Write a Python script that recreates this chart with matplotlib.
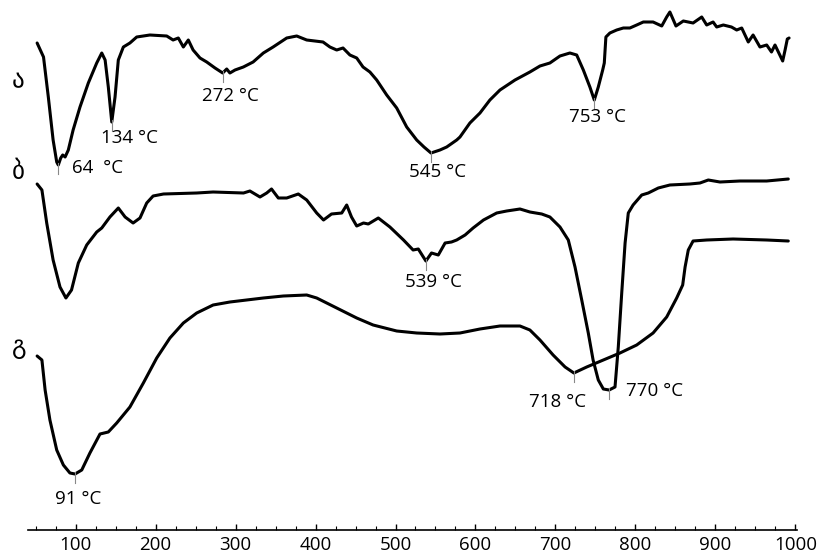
import matplotlib
matplotlib.use("Agg")
import matplotlib.pyplot as plt
from matplotlib.ticker import FixedLocator

# ---------------- data (temperature, °C ; DTA signal, arbitrary units) -------------
a_temp = [52, 60, 66, 72, 76.5, 78.5, 81.5, 84, 87, 91, 97, 105.6, 116, 126.5, 132.8,
          137, 141, 145.3, 149.4, 153.5, 159.8, 168, 176.5, 193, 214, 222, 228.5, 234.8,
          241, 247, 255.6, 264, 274.4, 284, 289, 293, 299.4, 309.8, 322, 334.8, 347, 364,
          376.5, 389, 409.4, 418, 426.5, 434.4, 443, 451.5, 459.4, 468, 476.5, 489, 501.5,
          514, 526.5, 535.6, 544.4, 555.6, 564, 576.5, 580.6, 593, 605.6, 618, 630.6, 649.4,
          668, 680.6, 693, 705.6, 718, 726.5, 734.8, 743, 748.5, 753.5, 759, 761, 763, 768,
          776.5, 784.8, 793, 801.5, 809.8, 822, 832.8, 839, 843, 850.6, 859.8, 872, 882.8,
          889, 897, 901.5, 909.8, 920, 926.5, 932.8, 941, 947, 955.6, 964, 970, 974.4, 984,
          987, 989.8, 992]
a_signal = [487, 473, 433, 390, 368, 365, 372, 375, 373, 380, 400, 423, 447, 467, 477,
            470, 443, 408, 433, 470, 483, 487, 493, 495, 494, 490, 492, 483, 490, 480,
            472, 468, 462, 457, 461, 457, 460, 463, 468, 477, 483, 492, 494, 490, 488,
            483, 480, 482, 475, 472, 463, 458, 450, 435, 422, 403, 390, 383, 377, 380,
            383, 390, 393, 407, 417, 430, 440, 450, 458, 464, 467, 474, 477, 475, 460,
            443, 430, 443, 460, 467, 493, 497, 500, 502, 502, 505, 508, 508, 504, 513,
            518, 504, 509, 507, 513, 505, 508, 503, 505, 503, 500, 502, 488, 495, 483,
            485, 478, 485, 469, 480, 491, 492]

b_temp = [52, 58, 64, 72, 80.6, 88, 95, 103.5, 114, 126.5, 132.8, 143, 153.5, 162, 172,
          180.6, 189, 197, 210, 251.5, 272, 310, 318, 330.6, 339, 345, 353.5, 364, 378.5,
          389, 401.5, 410, 420, 432.8, 439, 445, 451.5, 460, 466, 478.5, 493, 510, 522, 528.5,
          534.8, 538, 545, 553.5, 562, 570, 576.5, 587, 597, 610, 626.5, 639, 655.6, 668,
          682.8, 693, 705.6, 716, 724.4, 732.8, 741, 747, 753.5, 759.8, 767, 774.4, 778.5,
          782.8, 787, 791, 797, 807.8, 816, 828.5, 843, 868, 880.6, 891, 905.6, 930.6, 964, 991]
b_signal = [346, 340, 307, 270, 243, 232, 240, 267, 285, 298, 302, 313, 322, 313, 307,
            312, 327, 334, 336, 337, 338, 337, 339, 333, 337, 341, 332, 332, 336, 330,
            317, 310, 316, 317, 325, 313, 304, 307, 306, 312, 303, 290, 280, 281, 273,
            269, 277, 275, 287, 288, 290, 295, 302, 310, 317, 319, 321, 318, 316, 313,
            303, 290, 263, 230, 197, 170, 150, 141, 140, 143, 183, 237, 287, 317, 325,
            335, 337, 342, 345, 346, 347, 350, 348, 349, 349, 351]

c_temp = [52, 58, 62, 68, 76.5, 84.8, 93, 99.4, 107.8, 118, 130.6, 141, 151.5, 168, 184.8,
          201.5, 218, 234.8, 251.5, 272, 293, 334.8, 359.8, 389, 401.5, 426.5, 451.5, 472,
          501.5, 526.5, 555.6, 580.6, 605.6, 630.6, 655.6, 668, 680.6, 697, 712, 723, 739,
          759.8, 780.6, 801.5, 822, 839, 851.5, 859, 862, 866, 872, 889, 922, 964, 991]
c_signal = [174, 170, 140, 110, 80, 65, 57, 56, 60, 77, 96, 98, 107, 123, 147, 172, 192,
            207, 217, 225, 228, 232, 234, 235, 232, 222, 212, 205, 199, 197, 196, 197,
            201, 204, 204, 200, 190, 175, 163, 157, 163, 170, 177, 185, 197, 213, 232,
            245, 263, 280, 289, 290, 291, 290, 289]

curve_names = ["ა", "ბ", "გ"]
name_pos_t = [28, 28, 29]
name_pos_s = [450, 358, 183]

# peak annotations: text, peak temperature, peak signal, label temperature, label signal
peak_text = ["64  °C", "134 °C", "272 °C", "545 °C", "753 °C", "539 °C", "718 °C", "770 °C", "91 °C"]
peak_t = [78.5, 145.3, 284, 544.4, 748.5, 538, 723, 767, 99.4]
peak_s = [365, 408, 457, 377, 430, 269, 157, 140, 56]
label_t = [128, 168, 294, 553, 752, 547, 702, 824, 103]
label_s = [362, 392, 434, 358, 413, 248, 128, 139, 31]

major_ticks = [100, 200, 300, 400, 500, 600, 700, 800, 900, 1000]
minor_ticks = [50 + 25 * i for i in range(39)]

# ---------------- figure ----------------
fig = plt.figure(figsize=(8.17, 5.56), dpi=100)
ax = fig.add_axes([0, 0, 1, 1])
ax.set_xlim(5.6, 1026.9)
ax.set_ylim(-26, 530)

for t, s in [(a_temp, a_signal), (b_temp, b_signal), (c_temp, c_signal)]:
    ax.plot(t, s, color="black", lw=2.2, solid_joinstyle="round", solid_capstyle="round")

for n, x, y in zip(curve_names, name_pos_t, name_pos_s):
    ax.text(x, y, n, fontsize=18, family="DejaVu Sans", ha="center", va="center")

for txt, pt, ps, lt, ls in zip(peak_text, peak_t, peak_s, label_t, label_s):
    ax.plot([pt, pt], [ps + 2, ps - 9], color="#888888", lw=0.8)
    ax.text(lt, ls, txt, fontsize=13.5, family="Open Sans", ha="center", va="center")

for sp in ["top", "right", "left"]:
    ax.spines[sp].set_visible(False)
ax.spines["bottom"].set_position(("data", 0))
ax.spines["bottom"].set_bounds(40.6, 1002)
ax.spines["bottom"].set_linewidth(1.2)
ax.set_yticks([])
ax.set_xticks(major_ticks)
ax.set_xticklabels([str(v) for v in major_ticks], family="Open Sans", fontsize=13.5)
ax.xaxis.set_minor_locator(FixedLocator(minor_ticks))
ax.tick_params(axis="x", which="major", direction="in", length=4, width=1, pad=4)
ax.tick_params(axis="x", which="minor", direction="in", length=3, width=0.8)
ax.patch.set_visible(False)

fig.savefig("out.png", dpi=100)
